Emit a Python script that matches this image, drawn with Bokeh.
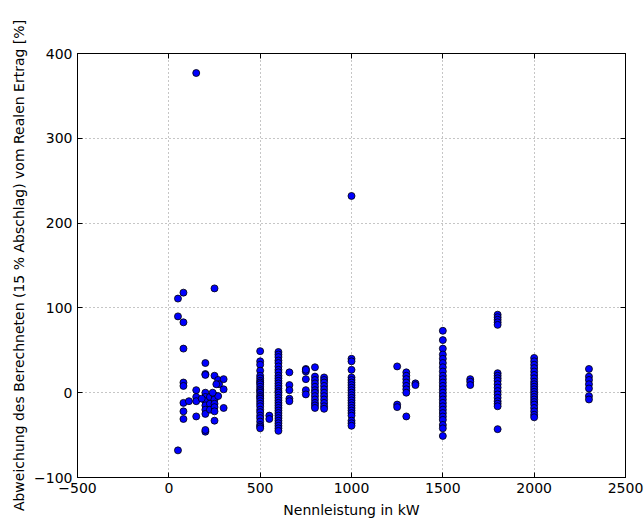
from bokeh.plotting import figure
from bokeh.models import LinearAxis, CustomJSTickFormatter, FixedTicker, Range1d, ColumnDataSource
from bokeh.embed import file_html
from bokeh.resources import INLINE

# --- data ---
kw_small = [50, 80, 50, 80, 80, 250, 80, 80, 80, 80, 80, 50, 110, 150, 150, 150, 150, 150,
            200, 200, 200, 200, 200, 200, 200, 200, 200, 200, 200, 180, 225, 225, 225,
            250, 250, 250, 250, 250, 250, 250, 270, 270, 275, 300, 300, 300, 240, 260]
dev_small = [111, 118, 90, 83, 52, 123, 12, 8, -12, -22, -31, -68, -10, 3, -5, -10, -28, 377,
             35, 22, 21, 0, -5, -10, -15, -20, -25, -46, -44, -7, -5, -13, -20,
             20, -3, -8, -13, -17, -22, -33, 15, -4, 10, 16, 4, -18, 0, 10]

dev_500 = [49, 37, 33, 26, 20, 17, 14, 12, 10, 7, 4, 2, 0, -3, -5, -7, -10, -13, -16, -20,
           -23, -27, -30, -34, -38, -40, -42]
dev_550 = [-27, -31]
dev_600 = [48, 45, 42, 38, 35, 31, 27, 24, 20, 17, 14, 11, 8, 5, 2, 0, -3, -6, -9, -12, -15,
           -18, -21, -24, -27, -30, -33, -36, -39, -42, -45]
dev_660 = [24, 9, 3, -7, -10]
dev_750 = [28, 25, 16, 3, -2, 27]
dev_800 = [30, 19, 15, 11, 7, 3, 0, -4, -8, -12, -15, -18]
dev_850 = [18, 15, 12, 8, 4, 0, -4, -8, -12, -16, -19]
dev_1000 = [232, 40, 37, 27, 18, 15, 12, 9, 6, 3, 0, -3, -6, -9, -12, -15, -18, -21, -24,
            -27, -33, -36, -39]
dev_1250 = [31, -14, -17]
dev_1300 = [24, 20, 16, 12, 8, 4, 0, -28]
dev_1350 = [11, 9]
dev_1500 = [73, 62, 52, 45, 40, 35, 30, 25, 20, 16, 12, 8, 4, 0, -4, -8, -12, -16, -20, -24,
            -28, -32, -38, -42, -51]
dev_1650 = [16, 13, 9]
dev_1800 = [92, 89, 86, 83, 80, 23, 20, 17, 14, 10, 6, 2, -2, -6, -10, -13, -16, -43]
dev_2000 = [41, 37, 33, 29, 25, 21, 17, 13, 10, 7, 4, 1, -2, -5, -8, -11, -14, -18, -22,
            -26, -29]
dev_2300 = [28, 19, 15, 10, 5, -4, -8]

groups = [(500, dev_500), (550, dev_550), (600, dev_600), (660, dev_660), (750, dev_750),
          (800, dev_800), (850, dev_850), (1000, dev_1000), (1250, dev_1250),
          (1300, dev_1300), (1350, dev_1350), (1500, dev_1500), (1650, dev_1650),
          (1800, dev_1800), (2000, dev_2000), (2300, dev_2300)]

x_ticks = [-500, 0, 500, 1000, 1500, 2000, 2500]
y_ticks = [-100, 0, 100, 200, 300, 400]

nennleistung = list(kw_small)
abweichung = list(dev_small)
for kw, devs in groups:
    nennleistung += [kw] * len(devs)
    abweichung += devs

src = ColumnDataSource(dict(x=nennleistung, y=abweichung))

FONT = "DejaVu Sans"

p = figure(width=644, height=525, x_range=Range1d(-500, 2500), y_range=Range1d(-100, 400),
           output_backend="svg", toolbar_location=None,
           min_border_left=77, min_border_right=19, min_border_top=53, min_border_bottom=48)
p.background_fill_color = "white"
p.border_fill_color = "white"
p.outline_line_color = "black"
p.outline_line_width = 1

p.scatter("x", "y", source=src, size=7, fill_color="#0000ff", line_color="black", line_width=0.8)

fmt = CustomJSTickFormatter(code="return (tick < 0 ? '\u2212' : '') + Math.abs(tick).toString();")
blank = CustomJSTickFormatter(code="return '';")

for ax in (p.xaxis[0], p.yaxis[0]):
    ax.formatter = fmt
    ax.major_tick_in = 5
    ax.major_tick_out = 0
    ax.minor_tick_in = 0
    ax.minor_tick_out = 0
    ax.major_label_text_font = FONT
    ax.major_label_text_font_size = "14px"
    ax.major_label_text_color = "black"
    ax.axis_label_text_font = FONT
    ax.axis_label_text_font_size = "14px"
    ax.axis_label_text_font_style = "normal"
    ax.axis_label_text_color = "black"
    ax.axis_line_color = "black"
    ax.major_tick_line_color = "black"
    ax.major_label_standoff = 5

p.xaxis[0].ticker = FixedTicker(ticks=x_ticks)
p.yaxis[0].ticker = FixedTicker(ticks=y_ticks)
p.xaxis[0].axis_label = "Nennleistung in kW"
p.yaxis[0].axis_label = "Abweichung des Berechneten (15 % Abschlag) vom Realen Ertrag [%]"
p.xaxis[0].axis_label_standoff = 6
p.yaxis[0].axis_label_standoff = 4

top = LinearAxis(ticker=FixedTicker(ticks=x_ticks), formatter=blank,
                 major_tick_in=5, major_tick_out=0, minor_tick_in=0, minor_tick_out=0,
                 major_label_standoff=0,
                 axis_line_color="black", major_tick_line_color="black")
right = LinearAxis(ticker=FixedTicker(ticks=y_ticks), formatter=blank,
                   major_tick_in=5, major_tick_out=0, minor_tick_in=0, minor_tick_out=0,
                   major_label_standoff=0,
                   axis_line_color="black", major_tick_line_color="black")
p.add_layout(top, "above")
p.add_layout(right, "right")

for g in (p.xgrid[0], p.ygrid[0]):
    g.grid_line_color = "black"
    g.grid_line_alpha = 0.45
    g.grid_line_dash = "1 3"
    g.grid_line_width = 1
p.xgrid[0].ticker = FixedTicker(ticks=x_ticks)
p.ygrid[0].ticker = FixedTicker(ticks=y_ticks)

open("out.html", "w").write(file_html(p, INLINE))
